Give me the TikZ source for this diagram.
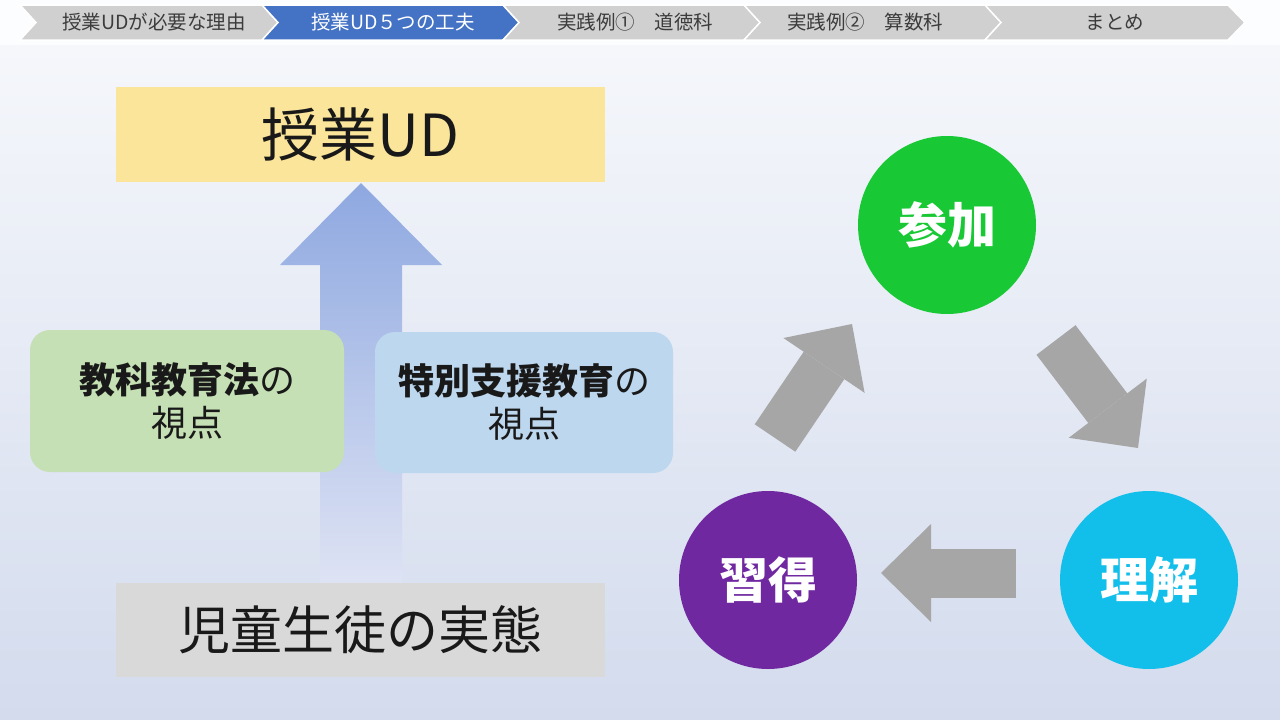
\documentclass[tikz,border=0pt]{standalone}
\usepackage{fontspec}
\setmainfont{Noto Sans CJK JP}
\usetikzlibrary{arrows.meta,positioning}
\definecolor{bgtop}{RGB}{245,247,251}
\definecolor{bgbot}{RGB}{211,219,237}
\definecolor{tabgray}{RGB}{208,208,208}
\definecolor{tabblue}{RGB}{68,114,196}
\definecolor{tabtext}{RGB}{60,60,60}
\definecolor{udyellow}{RGB}{250,229,154}
\definecolor{kyogreen}{RGB}{197,224,180}
\definecolor{tokblue}{RGB}{189,215,238}
\definecolor{jitgray}{RGB}{217,217,217}
\definecolor{sangreen}{RGB}{24,200,52}
\definecolor{rikblue}{RGB}{18,190,234}
\definecolor{shupurple}{RGB}{112,40,160}
\definecolor{arrgray}{RGB}{166,166,166}
\definecolor{uparrtop}{RGB}{142,168,224}
\definecolor{uparrbot}{RGB}{222,227,244}

\begin{document}
\begin{tikzpicture}[
    x=1pt, y=-1pt,
    tab/.style={fill=tabgray,draw=white,line width=1.5pt},
    tablabel/.style={inner sep=0pt,text=tabtext,font=\fontsize{19.5}{22}\selectfont},
    box/.style={rectangle,inner sep=0pt,text=black!90,align=center},
    pbox/.style={box,rounded corners=20pt,font=\fontsize{36}{43}\selectfont},
    stage/.style={circle,inner sep=0pt,minimum size=178pt,text=white,font=\fontsize{49}{53}\selectfont\bfseries},
    blockarr/.style={draw=arrgray,line width=49pt,-{Triangle[length=50pt,width=98pt,line width=0pt]}}
]
\useasboundingbox (0,0) rectangle (1280,720);
% background
\shade[top color=bgtop,bottom color=bgbot] (0,45) rectangle (1280,720);
\fill[white!70!bgtop] (0,0) rectangle (1280,45);

% progress bar
\filldraw[tab] (20,5) -- (262,5) -- (278,22.5) -- (262,40) -- (20,40) -- (36,22.5) -- cycle;
\filldraw[tab,fill=tabblue] (262,5) -- (503,5) -- (519,22.5) -- (503,40) -- (262,40) -- (278,22.5) -- cycle;
\filldraw[tab] (503,5) -- (744,5) -- (760,22.5) -- (744,40) -- (503,40) -- (519,22.5) -- cycle;
\filldraw[tab] (744,5) -- (985,5) -- (1001,22.5) -- (985,40) -- (744,40) -- (760,22.5) -- cycle;
\filldraw[tab] (985,5) -- (1228,5) -- (1245,22.5) -- (1228,40) -- (985,40) -- (1001,22.5) -- cycle;
\node[tablabel] (tab1) at (154,22.5) {授業UDが必要な理由};
\node[tablabel,text=white] (tab2) at (393,22.5) {授業UD５つの工夫};
\node[tablabel] (tab3) at (635,22.5) {実践例①　道徳科};
\node[tablabel] (tab4) at (865,22.5) {実践例②　算数科};
\node[tablabel] (tab5) at (1115,22.5) {まとめ};

% big arrow behind the boxes
\shade[top color=uparrtop,bottom color=uparrbot] (361,183) -- (442,265) -- (402,265) -- (402,583) -- (320,583) -- (320,265) -- (280,265) -- cycle;

\node[box,fill=udyellow,minimum width=489pt,minimum height=95pt,font=\fontsize{58}{64}\selectfont] (ud) at (360.5,134.5) {授業UD};
\node[pbox,fill=kyogreen,minimum width=314pt,minimum height=142pt] (kyoka) at (187,401) {\textbf{教科教育法}の\\視点};
\node[pbox,fill=tokblue,minimum width=298pt,minimum height=141pt] (tokubetsu) at (524,402.5) {\textbf{特別支援教育}の\\視点};
\node[box,fill=jitgray,minimum width=489pt,minimum height=94pt,font=\fontsize{52}{58}\selectfont] (jittai) at (360.5,630) {児童生徒の実態};

% cycle
\node[stage,fill=sangreen] (sanka) at (947,225) {参加};
\node[stage,fill=rikblue] (rikai) at (1149,580) {理解};
\node[stage,fill=shupurple] (shutoku) at (768,580) {習得};
\coordinate (a1s) at (775,438);
\coordinate (a1e) at (852,324);
\coordinate (a2s) at (1056,340);
\coordinate (a2e) at (1138,448);
\coordinate (a3s) at (1016,573);
\coordinate (a3e) at (881,573);
\draw[blockarr] (a1s) -- (a1e);
\draw[blockarr] (a2s) -- (a2e);
\draw[blockarr] (a3s) -- (a3e);
\end{tikzpicture}
\end{document}
